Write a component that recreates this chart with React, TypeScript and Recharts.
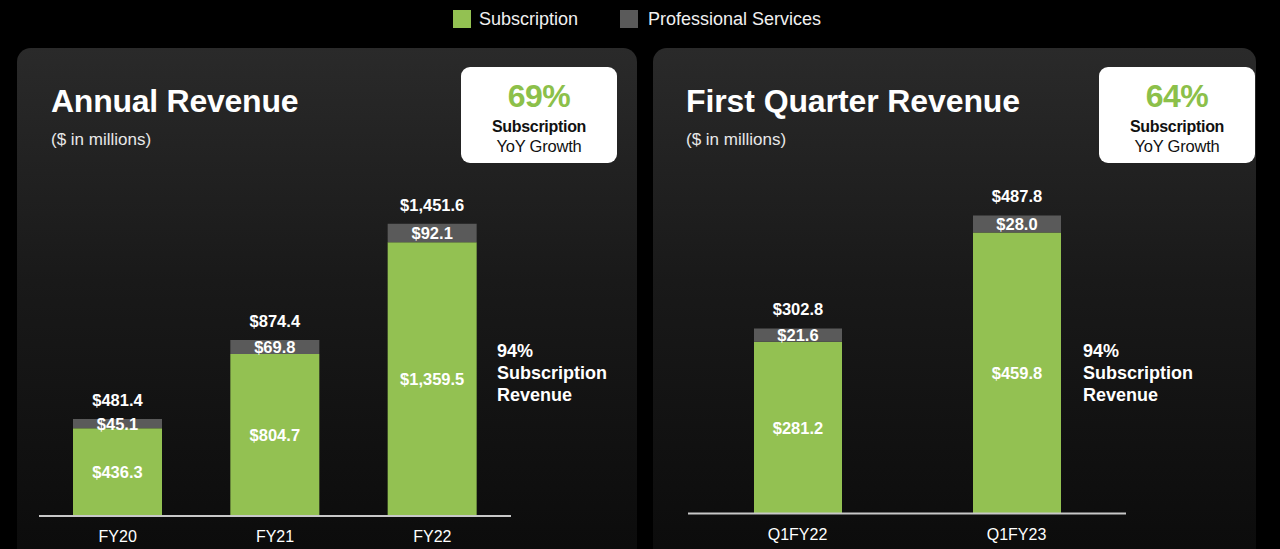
import React from 'react';
import { BarChart, Bar, XAxis, YAxis, LabelList } from 'recharts';

const annualCategories = ['FY20', 'FY21', 'FY22'];
const annualSubscription = [436.3, 804.7, 1359.5];
const annualProfessional = [45.1, 69.8, 92.1];
const annualTotal = [481.4, 874.4, 1451.6];

const quarterCategories = ['Q1FY22', 'Q1FY23'];
const quarterSubscription = [281.2, 459.8];
const quarterProfessional = [21.6, 28.0];
const quarterTotal = [302.8, 487.8];

const GREEN = '#93c152';
const GRAY = '#5a5a5a';
const FONT = '"Liberation Sans", Arial, Helvetica, sans-serif';

const fmt = (v: number) =>
  '$' + v.toLocaleString('en-US', { minimumFractionDigits: 1, maximumFractionDigits: 1 });

const annualData = annualCategories.map((c, i) => ({
  name: c,
  subscription: annualSubscription[i],
  professional: annualProfessional[i],
}));
const quarterData = quarterCategories.map((c, i) => ({
  name: c,
  subscription: quarterSubscription[i],
  professional: quarterProfessional[i],
}));

const totalLabel = (totals: number[]) => (props: any) => {
  const x = Number(props.x);
  const y = Number(props.y);
  const w = Number(props.width);
  const idx = Number(props.index);
  return (
    <text
      x={x + w / 2}
      y={y - 13}
      textAnchor="middle"
      fill="#ffffff"
      fontWeight="bold"
      fontSize={16.5}
      fontFamily={FONT}
    >
      {fmt(totals[idx])}
    </text>
  );
};

const segLabel = (props: any) => {
  const x = Number(props.x);
  const y = Number(props.y);
  const w = Number(props.width);
  const h = Number(props.height);
  return (
    <text
      x={x + w / 2}
      y={y + h / 2 + 6}
      textAnchor="middle"
      fill="#ffffff"
      fontWeight="bold"
      fontSize={16.5}
      fontFamily={FONT}
    >
      {fmt(Number(props.value))}
    </text>
  );
};

function Panel({ left, width }: { left: number; width: number }) {
  return (
    <div
      style={{
        position: 'absolute',
        left,
        top: 48,
        width,
        height: 520,
        borderRadius: 14,
        background: 'linear-gradient(180deg, #2a2a2a 0%, #191919 45%, #0b0b0b 100%)',
      }}
    />
  );
}

function Badge({ left, pct }: { left: number; pct: string }) {
  return (
    <div
      style={{
        position: 'absolute',
        left,
        top: 67,
        width: 156,
        height: 96,
        borderRadius: 9,
        background: '#ffffff',
        textAlign: 'center',
        color: '#111',
      }}
    >
      <div style={{ position: 'absolute', top: 11, width: '100%', fontSize: 32, fontWeight: 'bold', color: '#8cc04a', letterSpacing: -0.5 }}>
        {pct}
      </div>
      <div style={{ position: 'absolute', top: 51, width: '100%', fontSize: 16, fontWeight: 'bold', letterSpacing: -0.3 }}>Subscription</div>
      <div style={{ position: 'absolute', top: 70, width: '100%', fontSize: 16.5, letterSpacing: -0.2 }}>YoY Growth</div>
    </div>
  );
}

function SideNote({ left }: { left: number }) {
  return (
    <div
      style={{
        position: 'absolute',
        left,
        top: 340,
        fontSize: 18,
        fontWeight: 'bold',
        color: '#fff',
        lineHeight: '22px',
      }}
    >
      <div>94%</div>
      <div>Subscription</div>
      <div>Revenue</div>
    </div>
  );
}

const TOP_PAD = 40;

export default function App() {
  return (
    <div
      style={{
        position: 'absolute',
        left: 0,
        top: 0,
        width: 1280,
        height: 549,
        background: '#000',
        overflow: 'hidden',
        fontFamily: FONT,
      }}
    >
      {/* Legend */}
      <div style={{ position: 'absolute', left: 453, top: 10, width: 18, height: 18, background: GREEN }} />
      <div style={{ position: 'absolute', left: 479, top: 9, fontSize: 18, color: '#f0f0f0' }}>Subscription</div>
      <div style={{ position: 'absolute', left: 620, top: 10, width: 18, height: 18, background: GRAY }} />
      <div style={{ position: 'absolute', left: 648, top: 9, fontSize: 18, color: '#f0f0f0' }}>Professional Services</div>

      <Panel left={17} width={620} />
      <Panel left={653} width={603} />

      {/* Titles */}
      <div style={{ position: 'absolute', left: 51, top: 83, fontSize: 32, fontWeight: 'bold', color: '#fff', letterSpacing: -0.25 }}>
        Annual Revenue
      </div>
      <div style={{ position: 'absolute', left: 51, top: 130, fontSize: 17, color: '#e8e8e8' }}>($ in millions)</div>
      <div style={{ position: 'absolute', left: 686, top: 83, fontSize: 32, fontWeight: 'bold', color: '#fff', letterSpacing: -0.1 }}>
        First Quarter Revenue
      </div>
      <div style={{ position: 'absolute', left: 686, top: 130, fontSize: 17, color: '#e8e8e8' }}>($ in millions)</div>

      <Badge left={461} pct="69%" />
      <Badge left={1099} pct="64%" />

      <SideNote left={497} />
      <SideNote left={1083} />

      {/* Annual chart */}
      <div style={{ position: 'absolute', left: 39, top: 214 - TOP_PAD }}>
        <BarChart width={472} height={332 + TOP_PAD} data={annualData} margin={{ top: TOP_PAD, right: 0, bottom: 0, left: 0 }}>
          <YAxis hide domain={[0, 1500]} />
          <XAxis
            dataKey="name"
            axisLine={{ stroke: '#c8c8c8', strokeWidth: 2 }}
            tickLine={false}
            tickMargin={9}
            height={30}
            tick={{ fill: '#ffffff', fontSize: 16, fontFamily: FONT }}
            interval={0}
          />
          <Bar dataKey="subscription" stackId="a" fill={GREEN} barSize={89} isAnimationActive={false}>
            <LabelList dataKey="subscription" content={segLabel} />
          </Bar>
          <Bar dataKey="professional" stackId="a" fill={GRAY} barSize={89} isAnimationActive={false}>
            <LabelList dataKey="professional" content={segLabel} />
            <LabelList dataKey="professional" content={totalLabel(annualTotal)} />
          </Bar>
        </BarChart>
      </div>

      {/* Quarter chart */}
      <div style={{ position: 'absolute', left: 688, top: 207.5 - TOP_PAD }}>
        <BarChart width={438} height={335.5 + TOP_PAD} data={quarterData} margin={{ top: TOP_PAD, right: 0, bottom: 0, left: 0 }}>
          <YAxis hide domain={[0, 500]} />
          <XAxis
            dataKey="name"
            axisLine={{ stroke: '#c8c8c8', strokeWidth: 2 }}
            tickLine={false}
            tickMargin={9}
            height={30}
            tick={{ fill: '#ffffff', fontSize: 16, fontFamily: FONT }}
            interval={0}
          />
          <Bar dataKey="subscription" stackId="a" fill={GREEN} barSize={88} isAnimationActive={false}>
            <LabelList dataKey="subscription" content={segLabel} />
          </Bar>
          <Bar dataKey="professional" stackId="a" fill={GRAY} barSize={88} isAnimationActive={false}>
            <LabelList dataKey="professional" content={segLabel} />
            <LabelList dataKey="professional" content={totalLabel(quarterTotal)} />
          </Bar>
        </BarChart>
      </div>
    </div>
  );
}
